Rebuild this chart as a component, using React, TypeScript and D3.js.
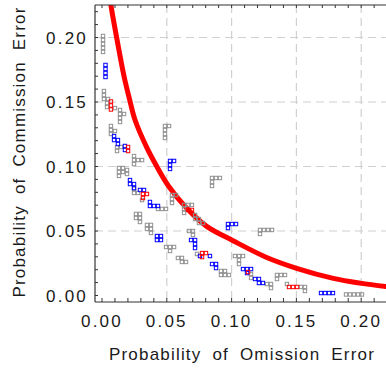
import React from 'react';
import * as d3 from 'd3';

const W = 386;
const H = 368;

const xTickValues = [0, 0.05, 0.1, 0.15, 0.2];
const yTickValues = [0, 0.05, 0.1, 0.15, 0.2];
const xTickLabels = ['0.00', '0.05', '0.10', '0.15', '0.20'];
const yTickLabels = ['0.00', '0.05', '0.10', '0.15', '0.20'];
const xTitle = 'Probability of Omission Error';
const yTitle = 'Probability of Commission Error';

// Red trade-off curve
const curveX = [0.006, 0.0069, 0.0113, 0.0172, 0.0208, 0.0255, 0.0345, 0.0424, 0.0517, 0.0654, 0.0808, 0.1011, 0.1271, 0.1502, 0.1785, 0.1991, 0.2191, 0.226];
const curveY = [0.232, 0.225, 0.2, 0.169, 0.154, 0.136, 0.1148, 0.0998, 0.0843, 0.0676, 0.0536, 0.0425, 0.0295, 0.0211, 0.0133, 0.0096, 0.007, 0.0063];

const grayPoints: [number, number][] = [
  [0.0008, 0.2012], [0.0008, 0.1981], [0.0008, 0.195], [0.0008, 0.1919], [0.0008, 0.1888],
  [0.0015, 0.1585], [0.0015, 0.1554], [0.0015, 0.1523], [0.0046, 0.1523], [0.0039, 0.1492], [0.0039, 0.1461], [0.01, 0.1453],
  [0.0139, 0.1438], [0.0139, 0.1407], [0.0139, 0.1376], [0.0139, 0.1345], [0.017, 0.1407],
  [0.0069, 0.1314], [0.0069, 0.1283], [0.0069, 0.1252], [0.01, 0.1275],
  [0.0116, 0.1151], [0.0147, 0.1151], [0.0116, 0.112],
  [0.0247, 0.1081], [0.0247, 0.105], [0.0247, 0.1019], [0.0278, 0.105], [0.0309, 0.105],
  [0.0131, 0.0988], [0.0162, 0.0988], [0.0131, 0.0957], [0.0162, 0.0957], [0.0131, 0.0927], [0.0193, 0.0973], [0.0193, 0.0942],
  [0.0247, 0.0826], [0.0247, 0.0795], [0.0278, 0.0795], [0.0309, 0.074],
  [0.0432, 0.0671], [0.0463, 0.0671], [0.0494, 0.0671],
  [0.0262, 0.0632], [0.0293, 0.0632], [0.0262, 0.0601], [0.0293, 0.0601], [0.0293, 0.057],
  [0.0347, 0.0547], [0.0378, 0.0547], [0.0347, 0.0516], [0.0378, 0.0516], [0.0378, 0.0485],
  [0.0494, 0.0376], [0.0525, 0.0376], [0.0556, 0.0376], [0.0525, 0.0345],
  [0.0586, 0.0291], [0.0617, 0.0291], [0.0617, 0.026], [0.0648, 0.026],
  [0.0486, 0.1314], [0.0517, 0.1314], [0.0486, 0.1283], [0.0486, 0.1252], [0.0486, 0.1221],
  [0.054, 0.0779], [0.0571, 0.0779], [0.054, 0.0748], [0.054, 0.0717],
  [0.0633, 0.0702], [0.0664, 0.0702], [0.0694, 0.0702], [0.0633, 0.0671], [0.0633, 0.064],
  [0.0718, 0.0624], [0.0718, 0.0593], [0.0748, 0.0593], [0.0748, 0.0562], [0.0779, 0.0562],
  [0.0671, 0.05], [0.0702, 0.05], [0.0702, 0.0469], [0.0733, 0.0322],
  [0.0918, 0.019], [0.0949, 0.019], [0.0918, 0.0159], [0.0949, 0.0159], [0.098, 0.0159],
  [0.1026, 0.0306], [0.1057, 0.0306], [0.1088, 0.0306], [0.1057, 0.0275], [0.1057, 0.0244],
  [0.115, 0.0167], [0.115, 0.0136],
  [0.1273, 0.0089], [0.1304, 0.0089], [0.1304, 0.0058],
  [0.135, 0.0159], [0.1381, 0.0159], [0.1412, 0.0159], [0.135, 0.0128],
  [0.1427, 0.0089], [0.1535, 0.0066], [0.1566, 0.0066], [0.1566, 0.0035],
  [0.1883, 0.0008], [0.1914, 0.0008], [0.1944, 0.0008], [0.1975, 0.0008], [0.2006, 0.0008],
  [0.0849, 0.0911], [0.088, 0.0911], [0.091, 0.0911], [0.0849, 0.088], [0.0849, 0.0849],
  [0.1219, 0.0508], [0.125, 0.0508], [0.1281, 0.0508], [0.1312, 0.0508], [0.1219, 0.0477],
];

const bluePoints: [number, number][] = [
  [0.0027, 0.1787], [0.0027, 0.1756], [0.0027, 0.1725], [0.0027, 0.1694],
  [0.0093, 0.1236], [0.0093, 0.1205], [0.0123, 0.1205], [0.0123, 0.1174],
  [0.0177, 0.1159], [0.0177, 0.1128],
  [0.0216, 0.0895], [0.0216, 0.0864], [0.0247, 0.0864], [0.0247, 0.0833],
  [0.0293, 0.0818], [0.0324, 0.0818],
  [0.037, 0.0725], [0.037, 0.0694], [0.0401, 0.0694], [0.0432, 0.0694],
  [0.0424, 0.0461], [0.0455, 0.0461], [0.0424, 0.043], [0.0455, 0.043],
  [0.0525, 0.1043], [0.0556, 0.1043], [0.0525, 0.1012], [0.0525, 0.0981],
  [0.0687, 0.043], [0.0718, 0.043], [0.0718, 0.0399], [0.0718, 0.0368],
  [0.0756, 0.0306], [0.0833, 0.0306],
  [0.0849, 0.0244], [0.088, 0.0244], [0.088, 0.0213],
  [0.0972, 0.0554], [0.1003, 0.0554], [0.1034, 0.0554], [0.0972, 0.0523],
  [0.1088, 0.0205], [0.1119, 0.0205], [0.115, 0.0205], [0.1119, 0.0174],
  [0.1181, 0.0128], [0.1211, 0.0128], [0.1211, 0.0097], [0.1242, 0.0097],
  [0.169, 0.0019], [0.1721, 0.0019], [0.1752, 0.0019], [0.1782, 0.0019],
];

const redPoints: [number, number][] = [
  [0.0069, 0.1504], [0.0069, 0.1473], [0.0069, 0.1442],
  [0.0201, 0.1151], [0.0201, 0.112],
  [0.0316, 0.0787], [0.0316, 0.0756], [0.0347, 0.0787],
  [0.0664, 0.0663], [0.0694, 0.0663],
  [0.0772, 0.0329], [0.0802, 0.0329], [0.0772, 0.0298],
  [0.1127, 0.0182],
  [0.1443, 0.0066], [0.1474, 0.0066], [0.1505, 0.0066],
];

const FONT = '"Liberation Sans", Arial, sans-serif';

export default function App() {
  const x = d3.scaleLinear().domain([0, 0.2]).range([102, 361.2]);
  const y = d3.scaleLinear().domain([0, 0.2]).range([295.5, 37.5]);
  const left = 95, top = 5, right = 392, bottom = 302;

  const minorX = d3.range(0, 0.2201, 0.01);
  const minorY = d3.range(0, 0.2201, 0.01);

  const curveData = curveX.map((v, i) => [v, curveY[i]] as [number, number]);
  const line = d3.line<[number, number]>()
    .x(d => x(d[0]))
    .y(d => y(d[1]))
    .curve(d3.curveCatmullRom.alpha(0.5));

  const marker = (pts: [number, number][], color: string, key: string) =>
    pts.map((p, i) => (
      <rect key={key + i} x={x(p[0]) - 1.7} y={y(p[1]) - 1.7} width={3.4} height={3.4}
        fill="none" stroke={color} strokeWidth={1} />
    ));

  return (
    <svg width={W} height={H} style={{ position: 'absolute', left: 0, top: 0, background: '#fff' }}>
      <defs>
        <clipPath id="plotClip">
          <rect x={left} y={top} width={right - left} height={bottom - top} />
        </clipPath>
      </defs>
      <rect x={0} y={0} width={W} height={H} fill="#fff" />
      {xTickValues.filter(v => v > 0).map(v => (
        <line key={'gx' + v} x1={x(v)} x2={x(v)} y1={top} y2={bottom}
          stroke="#d0d0d0" strokeWidth={1.2} strokeDasharray="8,5" />
      ))}
      {yTickValues.filter(v => v > 0).map(v => (
        <line key={'gy' + v} x1={left} x2={right} y1={y(v)} y2={y(v)}
          stroke="#d0d0d0" strokeWidth={1.2} strokeDasharray="8,5" />
      ))}
      <g clipPath="url(#plotClip)">
        <path d={line(curveData) || ''} fill="none" stroke="#ff0000" strokeWidth={5} />
        {marker(grayPoints, '#909090', 'g')}
        {marker(bluePoints, '#0000ff', 'b')}
        {marker(redPoints, '#ff0000', 'r')}
      </g>
      <line x1={left} x2={left} y1={top} y2={bottom} stroke="#333" strokeWidth={1.2} />
      <line x1={left} x2={right} y1={bottom} y2={bottom} stroke="#333" strokeWidth={1.2} />
      <line x1={left} x2={right} y1={top} y2={top} stroke="#333" strokeWidth={1.2} />
      {minorX.map((v, i) => (
        <g key={'tx' + i}>
          <line x1={x(v)} x2={x(v)} y1={bottom} y2={bottom - 4} stroke="#333" strokeWidth={1} />
          <line x1={x(v)} x2={x(v)} y1={top} y2={top + 3} stroke="#333" strokeWidth={1} />
        </g>
      ))}
      {minorY.map((v, i) => (
        <line key={'ty' + i} x1={left} x2={left + 3} y1={y(v)} y2={y(v)} stroke="#333" strokeWidth={1} />
      ))}
      {xTickValues.map((v, i) => (
        <text key={'lx' + i} x={x(v)} y={327} textAnchor="middle" fontFamily={FONT}
          fontSize={17} letterSpacing={2.2} fill="#1a1a1a">{xTickLabels[i]}</text>
      ))}
      {yTickValues.map((v, i) => (
        <text key={'ly' + i} x={88} y={y(v) + 6} textAnchor="end" fontFamily={FONT}
          fontSize={17} letterSpacing={2.2} fill="#1a1a1a">{yTickLabels[i]}</text>
      ))}
      <text x={242} y={360} textAnchor="middle" fontFamily={FONT} fontSize={17}
        letterSpacing={1.2} wordSpacing={5} fill="#1a1a1a">{xTitle}</text>
      <text transform="translate(25,152) rotate(-90)" textAnchor="middle" fontFamily={FONT}
        fontSize={17} letterSpacing={1.2} wordSpacing={5} fill="#1a1a1a">{yTitle}</text>
    </svg>
  );
}
